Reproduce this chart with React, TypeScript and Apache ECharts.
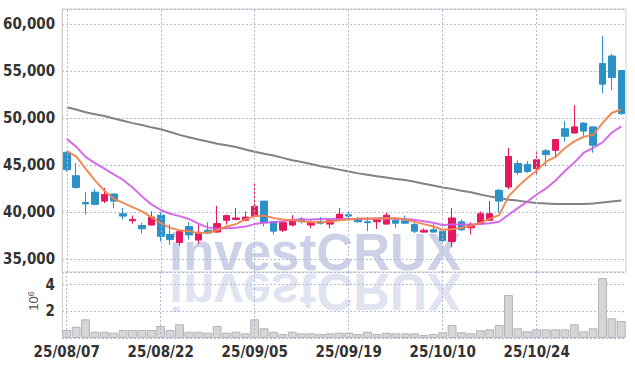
import React, { useEffect, useRef } from 'react';
import * as echarts from 'echarts';

const dates = [
  '25/08/07', '25/08/08', '25/08/11', '25/08/12', '25/08/13', '25/08/14', '25/08/18', '25/08/19', '25/08/20', '25/08/21',
  '25/08/22', '25/08/25', '25/08/26', '25/08/27', '25/08/28', '25/08/29', '25/09/01', '25/09/02', '25/09/03', '25/09/04',
  '25/09/05', '25/09/08', '25/09/09', '25/09/10', '25/09/11', '25/09/12', '25/09/15', '25/09/16', '25/09/17', '25/09/18',
  '25/09/19', '25/09/22', '25/09/23', '25/09/24', '25/09/25', '25/09/26', '25/09/29', '25/09/30', '25/10/01', '25/10/02',
  '25/10/10', '25/10/13', '25/10/14', '25/10/15', '25/10/16', '25/10/17', '25/10/20', '25/10/21', '25/10/22', '25/10/23',
  '25/10/24', '25/10/27', '25/10/28', '25/10/29', '25/10/30', '25/10/31', '25/11/03', '25/11/04', '25/11/05', '25/11/06',
];

const opens = [
  46350, 43850, 41000, 42100, 41150, 41900, 39800, 39050, 38550, 38600,
  39650, 37600, 36750, 38450, 37000, 38050, 37850, 39100, 39200, 39100,
  39550, 41150, 38950, 38050, 38600, 39250, 38600, 38950, 38700, 39200,
  39700, 39250, 38950, 38950, 38700, 39100, 39050, 38650, 37850, 38100,
  37950, 36850, 38950, 38300, 38750, 39100, 42300, 42650, 45150, 45050,
  44600, 46500, 46550, 48850, 48400, 49450, 49050, 55800, 56600, 55050,
];
const closes = [
  44500, 42600, 40850, 40800, 41850, 41150, 39550, 39200, 38200, 39450,
  37400, 37050, 37900, 37550, 37750, 37750, 38750, 39600, 39350, 39450,
  40600, 38850, 37950, 38850, 39100, 38950, 38850, 38800, 39050, 39750,
  39550, 38950, 38850, 39150, 39650, 38800, 38800, 37950, 38050, 37850,
  36950, 39350, 38100, 38650, 39800, 39800, 41150, 45900, 44200, 44300,
  45550, 46100, 47700, 48050, 49050, 48600, 47100, 53600, 54300, 50450,
];
const lows = [
  44300, 42450, 39700, 40700, 40950, 40400, 39200, 38750, 37700, 38550,
  36850, 36500, 36400, 37050, 36600, 37700, 37800, 38650, 39100, 39050,
  39450, 38450, 37600, 37850, 38450, 38750, 38250, 38650, 38250, 39100,
  39050, 38850, 37950, 38200, 38650, 38300, 38750, 37750, 37800, 37800,
  36750, 36250, 37950, 37600, 38650, 39050, 39900, 42400, 43950, 44150,
  44050, 44850, 45850, 47500, 48350, 48100, 46300, 52650, 52950, 50350,
];
const highs = [
  46400, 45200, 42100, 42450, 42550, 41950, 40400, 39600, 38850, 40050,
  40000, 38650, 38000, 38900, 38650, 38900, 40650, 39700, 40400, 40050,
  43100, 41150, 39000, 39000, 39650, 39450, 39100, 39450, 39100, 40400,
  40000, 39450, 39450, 39300, 39900, 39350, 39600, 38850, 38250, 38850,
  38000, 40400, 39200, 38900, 40050, 41150, 42450, 46800, 45500, 45400,
  46350, 46700, 47750, 49650, 51350, 49550, 49100, 58700, 56800, 55050,
];

const volumes = [
  600000, 850000, 1400000, 470000, 470000, 400000, 600000, 600000, 600000, 600000,
  900000, 600000, 1030000, 470000, 470000, 400000, 900000, 400000, 470000, 350000,
  1400000, 730000, 470000, 300000, 470000, 350000, 350000, 300000, 350000, 400000,
  400000, 300000, 470000, 300000, 400000, 350000, 350000, 350000, 230000, 300000,
  430000, 980000, 430000, 350000, 580000, 650000, 980000, 3230000, 730000, 500000,
  650000, 650000, 650000, 650000, 1030000, 500000, 730000, 4490000, 1480000, 1280000,
];

const ma5 = [
  46450, 45900, 44600, 43350, 42250, 41400, 40950, 40500, 40050, 39450,
  38800, 38300, 38050, 37950, 37750, 37800, 38050, 38450, 38700, 39200,
  39550, 39600, 39350, 39200, 39100, 39000, 38900, 38900, 38950, 39100,
  39200, 39300, 39300, 39300, 39350, 39300, 39200, 38950, 38700, 38450,
  38100, 38150, 38300, 38500, 38850, 39250, 39650, 41650, 42700, 43600,
  44400, 45350, 45850, 46800, 47500, 48000, 48200, 49450, 50550, 50900,
];
const ma20 = [
  47750, 46950, 45850, 45200, 44600, 44000, 43400, 42600, 41650, 40800,
  40200, 39800, 39550, 39250, 38750, 38350, 38200, 38250, 38300, 38450,
  38700, 38850, 38900, 39000, 39150, 39200, 39200, 39250, 39250, 39250,
  39250, 39250, 39250, 39300, 39300, 39300, 39250, 39150, 39000, 38850,
  38600, 38650, 38650, 38650, 38700, 38800, 38950, 39700, 40400, 41100,
  41850, 42500, 43350, 44350, 45250, 46300, 46800, 47400, 48450, 49100,
];
const ma120 = [
  51150, 50900, 50600, 50400, 50200, 49950, 49700, 49450, 49250, 49000,
  48800, 48500, 48200, 47950, 47700, 47500, 47250, 47100, 46900, 46650,
  46400, 46200, 46000, 45750, 45500, 45300, 45100, 44850, 44700, 44500,
  44300, 44100, 43950, 43800, 43650, 43500, 43400, 43200, 43000, 42800,
  42600, 42450, 42250, 42100, 41850, 41650, 41500, 41300, 41200, 41050,
  40950, 40900, 40850, 40850, 40850, 40850, 40900, 41000, 41100, 41200,
];

const FONT = '"Liberation Sans Narrow", "DejaVu Sans Condensed", sans-serif';
const GRID_LINE = { type: [2, 2] as any, color: '#b6b9d4', width: 1 };
const UP = '#e6185f';
const DOWN = '#2b91c6';

export default function App() {
  const ref = useRef<HTMLDivElement>(null);
  useEffect(() => {
    document.body.style.margin = '0';
    const chart = echarts.init(ref.current!, null, { renderer: 'svg' });
    const candles = dates.map((_, i) => [opens[i], closes[i], lows[i], highs[i]]);
    const labelDates = dates.filter((_, i) => i % 10 === 0);
    const vLines = {
      silent: true, symbol: 'none', label: { show: false }, animation: false,
      lineStyle: GRID_LINE, emphasis: { disabled: true },
      data: labelDates.map((d) => ({ xAxis: d })),
    };
    const axisLabelStyle = { fontFamily: FONT, fontSize: 15, fontWeight: 'bold' as const, color: '#333' };
    chart.setOption({
      animation: false,
      grid: [
        { left: 62, right: 9, top: 9, height: 263, show: true, borderColor: '#cfcfcf', borderWidth: 1, backgroundColor: 'transparent' },
        { left: 62, right: 9, top: 272, bottom: 28 },
      ],
      graphic: {
        elements: [
          {
            type: 'text', x: 315, y: 252, z: -10, silent: true,
            style: { text: 'investCRUX', font: 'bold 51px "Liberation Sans", Arial, sans-serif', fill: '#ccd1e7', textAlign: 'center', textVerticalAlign: 'middle' },
          },
          {
            type: 'text', x: 315, y: 291, z: -10, silent: true, scaleY: -1,
            style: { text: 'investCRUX', font: 'bold 51px "Liberation Sans", Arial, sans-serif', fill: '#e0e3f0', textAlign: 'center', textVerticalAlign: 'middle' },
          },
          {
            type: 'text', x: 33, y: 301, rotation: Math.PI / 2, silent: true,
            style: {
              text: '{a|10}{b|6}', textAlign: 'center', textVerticalAlign: 'middle',
              rich: {
                a: { fontFamily: '"Liberation Sans", sans-serif', fontSize: 13, fill: '#555', verticalAlign: 'bottom' },
                b: { fontFamily: '"Liberation Sans", sans-serif', fontSize: 9, fill: '#555', verticalAlign: 'top' },
              },
            },
          },
        ],
      },
      xAxis: [
        {
          type: 'category', gridIndex: 0, data: dates, boundaryGap: true,
          axisLine: { show: false }, axisTick: { show: false }, axisLabel: { show: false },
          splitLine: { show: false },
        },
        {
          type: 'category', gridIndex: 1, data: dates, boundaryGap: true,
          axisLine: { show: false }, axisTick: { show: false },
          axisLabel: { ...axisLabelStyle, interval: 9, margin: 6 },
          splitLine: { show: false },
        },
      ],
      yAxis: [
        {
          type: 'value', gridIndex: 0, min: 33600, max: 61600,
          axisLine: { show: true, lineStyle: { color: '#cfcfcf' } }, axisTick: { show: false },
          axisLabel: { ...axisLabelStyle, margin: 7, showMinLabel: false, showMaxLabel: false, formatter: (v: number) => v.toLocaleString('en-US') },
          splitLine: { show: true, lineStyle: GRID_LINE },
        },
        {
          type: 'value', gridIndex: 1, min: 0, max: 4950000, interval: 2000000,
          axisLine: { show: true, lineStyle: { color: '#cfcfcf' } }, axisTick: { show: false },
          axisLabel: { ...axisLabelStyle, margin: 7, showMinLabel: false, showMaxLabel: false, formatter: (v: number) => String(v / 1000000) },
          splitLine: { show: true, lineStyle: GRID_LINE },
        },
      ],
      series: [
        {
          name: 'MA120', type: 'line', xAxisIndex: 0, yAxisIndex: 0, data: ma120, symbol: 'none',
          lineStyle: { color: '#828282', width: 2 }, z: 3, markLine: vLines,
        },
        {
          name: 'Volume', type: 'bar', xAxisIndex: 1, yAxisIndex: 1, data: volumes, barCategoryGap: '6%',
          itemStyle: { color: '#d6d6d8', borderColor: '#b4b4b8', borderWidth: 1 }, markLine: vLines,
        },
        {
          name: 'Price', type: 'candlestick', xAxisIndex: 0, yAxisIndex: 0, data: candles, barWidth: 7,
          itemStyle: { color: UP, color0: DOWN, borderColor: UP, borderColor0: DOWN, borderWidth: 1 },
          z: 4,
        },
        {
          name: 'MA20', type: 'line', xAxisIndex: 0, yAxisIndex: 0, data: ma20, symbol: 'none',
          lineStyle: { color: '#d05ce6', width: 2, opacity: 0.9 }, z: 5,
        },
        {
          name: 'MA5', type: 'line', xAxisIndex: 0, yAxisIndex: 0, data: ma5, symbol: 'none',
          lineStyle: { color: '#ef8550', width: 2, opacity: 0.95 }, z: 6,
        },
      ],
    });
    return () => chart.dispose();
  }, []);
  return <div ref={ref} style={{ width: 635, height: 366 }} />;
}
